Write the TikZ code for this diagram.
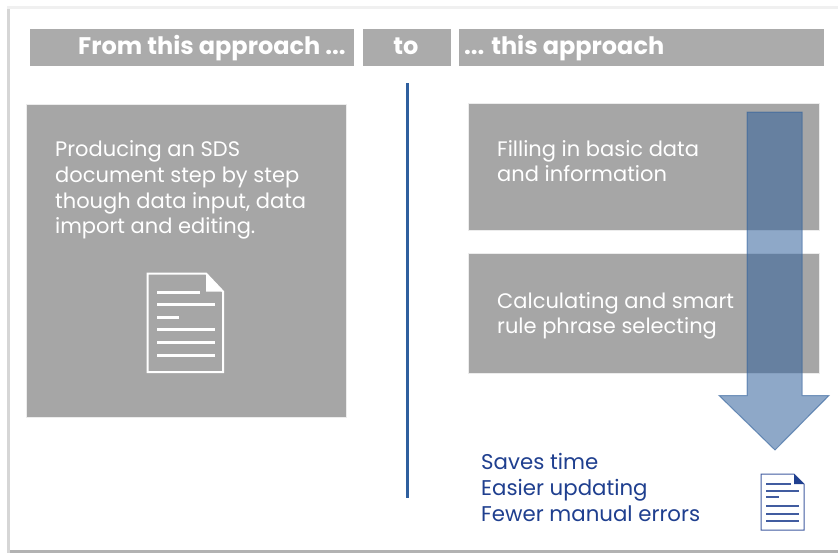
\documentclass[tikz,border=0pt]{standalone}
\usepackage{fontspec}
\setmainfont{Poppins}
\definecolor{boxgray}{HTML}{A6A6A6}
\definecolor{bandgray}{HTML}{ABABAB}
\definecolor{navy}{HTML}{1F3F8F}
\definecolor{rule}{HTML}{2F5F9E}
\definecolor{arrowc}{HTML}{30609B}
\tikzset{
  x=1pt,y=-1pt,
  band/.style={fill=bandgray,draw=none},
  panel/.style={fill=boxgray,draw=white!85!gray,line width=.8pt},
  head/.style={font=\fontsize{24}{28}\selectfont\bfseries,text=white,inner sep=0pt,anchor=west},
  panelt/.style={font=\fontsize{21}{25.4}\selectfont,text=white,inner sep=0pt,anchor=north west,align=left},
  panelf/.style={panelt,font=\fontsize{21}{25.7}\selectfont},
  result/.style={font=\fontsize{21.3}{26}\selectfont,text=navy,inner sep=0pt,anchor=north west,align=left},
  wline/.style={draw=white,line width=3pt},
  bline/.style={draw=navy!85!white,line width=2pt},
}
\begin{document}
\begin{tikzpicture}
\useasboundingbox (0,0) rectangle (838,554);
\fill[white] (0,0) rectangle (838,554);
\fill[black!6] (7,6) rectangle (838,553);
\fill[black!30] (7,550) rectangle (838,553);
\fill[black!16] (7,9) rectangle (10,553);
\fill[white] (10,9) rectangle (838,550);
\path[band] (30,29) rectangle (354,66);
\path[band] (363,29) rectangle (451,66);
\path[band] (459,29) rectangle (824,66);
\node[head] (h1) at (78,48) {From this approach ...};
\node[head,anchor=center] (h2) at (406,46) {to};
\node[head] (h3) at (464,48) {... this approach};
\coordinate (d1) at (407.5,83);
\coordinate (d2) at (407.5,498);
\draw[rule,line width=2.6pt] (d1) -- (d2);
\path[panel] (26.5,104.5) rectangle (346.5,417.5);
\path[panel] (468.5,103.5) rectangle (819,230.5);
\path[panel] (468.5,253.5) rectangle (819,373.5);
\node[panelf] (t1) at (55,140.5) {Producing an SDS\\document step by step\\though data input, data\\import and editing.};
\node[panelt] (t2) at (497,140) {Filling in basic data\\and information};
\node[panelt] (t3) at (497,292) {Calculating and smart\\rule phrase selecting};
\draw[white,line width=2pt,line join=miter] (147.5,273.5) -- (206,273.5) -- (223,291.5) -- (223,372) -- (147.5,372) -- cycle;
\fill[white] (206,273.5) -- (223,291.5) -- (206,291.5) -- cycle;
\draw[wline] (157,292) -- (200,292);
\draw[wline] (157,304.5) -- (215,304.5);
\draw[wline] (157,317) -- (179,317);
\draw[wline] (157,329.5) -- (215,329.5);
\draw[wline] (157,342.5) -- (215,342.5);
\draw[wline] (157,355) -- (215,355);
\filldraw[fill=arrowc,fill opacity=.54,draw=arrowc,draw opacity=.6,line width=1pt,line join=miter]
  (747,112) -- (802,112) -- (802,395.5) -- (829,395.5) -- (775,450) -- (719,395.5) -- (747,395.5) -- cycle;
\node[result] (r) at (481,453) {Saves time\\Easier updating\\Fewer manual errors};
\draw[navy!85!white,line width=1pt,fill=white] (761,474) -- (794,474) -- (804,484) -- (804,530) -- (761,530) -- cycle;
\fill[navy] (794,474) -- (804,484) -- (794,484) -- cycle;
\draw[bline] (766,484) -- (791,484);
\draw[bline] (766,490.5) -- (799,490.5);
\draw[bline] (766,497) -- (779,497);
\draw[bline] (766,506) -- (799,506);
\draw[bline] (766,514) -- (799,514);
\draw[bline] (766,521) -- (799,521);
\end{tikzpicture}
\end{document}
